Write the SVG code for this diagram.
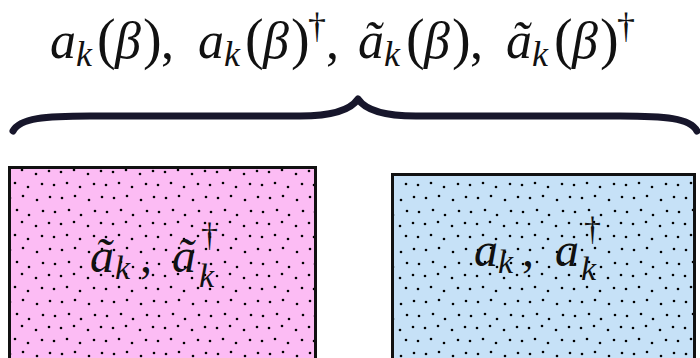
<svg xmlns="http://www.w3.org/2000/svg" width="700" height="358" viewBox="0 0 700 358">
<style>
.m{font-family:"Liberation Serif","DejaVu Serif",serif;fill:#111}
.i{font-style:italic}
.big{font-size:52px}
.sub{font-size:36px}
.par{font-size:56px}
.bx{font-size:48px}
.bsub{font-size:34px}
.box{stroke:#111;stroke-width:3}
</style>
<defs>
<pattern id="dots" width="52" height="52" patternUnits="userSpaceOnUse">
<g fill="#000">
<circle cx="3" cy="4" r="1.3"/><circle cx="17" cy="2" r="1.3"/><circle cx="29" cy="7" r="1.3"/><circle cx="43" cy="3" r="1.3"/>
<circle cx="9" cy="16" r="1.3"/><circle cx="22" cy="14" r="1.3"/><circle cx="36" cy="18" r="1.3"/><circle cx="49" cy="15" r="1.3"/>
<circle cx="2" cy="29" r="1.3"/><circle cx="15" cy="27" r="1.3"/><circle cx="28" cy="31" r="1.3"/><circle cx="42" cy="28" r="1.3"/>
<circle cx="10" cy="42" r="1.3"/><circle cx="23" cy="40" r="1.3"/><circle cx="37" cy="44" r="1.3"/><circle cx="50" cy="41" r="1.3"/>
</g>
</pattern>
</defs>
<rect width="700" height="358" fill="#fff"/>

<g id="label-top" class="m">
<text class="big" y="58"><tspan class="i" x="50">a</tspan><tspan class="i sub" x="76" y="66">k</tspan><tspan class="par" x="97" y="58">(</tspan><tspan class="i" x="115" y="58">β</tspan><tspan class="par" x="143" y="58">)</tspan><tspan x="161" y="58">,</tspan></text>
<text class="big" y="58"><tspan class="i" x="198">a</tspan><tspan class="i sub" x="224" y="66">k</tspan><tspan class="par" x="245" y="58">(</tspan><tspan class="i" x="263" y="58">β</tspan><tspan class="par" x="291" y="58">)</tspan><tspan class="sub" x="308" y="38">†</tspan><tspan x="326" y="58">,</tspan></text>
<text class="big" y="58"><tspan class="i" x="358">ã</tspan><tspan class="i sub" x="384" y="66">k</tspan><tspan class="par" x="406" y="58">(</tspan><tspan class="i" x="424" y="58">β</tspan><tspan class="par" x="452" y="58">)</tspan><tspan x="470" y="58">,</tspan></text>
<text class="big" y="58"><tspan class="i" x="506">ã</tspan><tspan class="i sub" x="532" y="66">k</tspan><tspan class="par" x="554" y="58">(</tspan><tspan class="i" x="572" y="58">β</tspan><tspan class="par" x="600" y="58">)</tspan><tspan class="sub" x="617" y="38">†</tspan></text>
</g>

<g id="connectors">
<path d="M13,131 C20,118 45,116 90,116 L300,116 C330,116 350,111 358,99 C366,111 386,116 416,116 L620,116 C665,116 690,118 697,131" fill="none" stroke="#17162b" stroke-width="7" stroke-linecap="round" stroke-linejoin="round"/>
</g>

<g id="node-tilde">
<rect class="box" x="9.5" y="167.5" width="306" height="200" fill="#fcbcf4"/>
<rect x="11" y="169" width="303" height="197" fill="url(#dots)"/>
<text class="m bx" y="272"><tspan class="i" x="90">ã</tspan><tspan class="i bsub" x="115" y="279">k</tspan><tspan x="140" y="272">,</tspan><tspan class="i" x="172" y="272">ã</tspan><tspan class="bsub" x="201" y="246">†</tspan><tspan class="i bsub" x="199" y="287">k</tspan></text>
</g>

<g id="node-plain">
<rect class="box" x="392.5" y="174.5" width="302" height="200" fill="#c6e1f7"/>
<rect x="394" y="176" width="299" height="197" fill="url(#dots)"/>
<text class="m bx" y="266"><tspan class="i" x="474">a</tspan><tspan class="i bsub" x="498" y="273">k</tspan><tspan x="522" y="266">,</tspan><tspan class="i" x="555">a</tspan><tspan class="bsub" x="584" y="240">†</tspan><tspan class="i bsub" x="581" y="280">k</tspan></text>
</g>
</svg>
